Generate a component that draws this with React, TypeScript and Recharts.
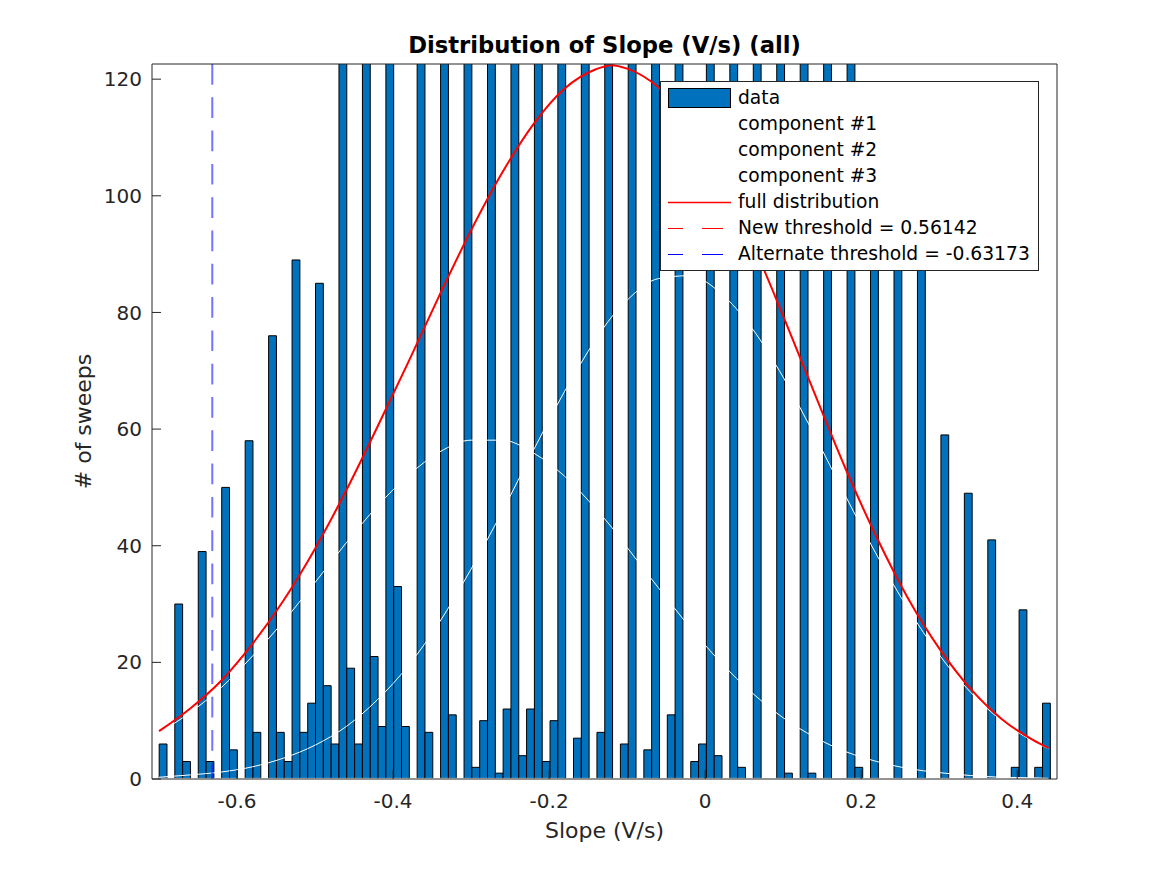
import { ComposedChart, Bar, Line, XAxis, YAxis, ReferenceLine, Legend, Label } from 'recharts'

// histogram bins (edges of the first bin and the bin width, in V/s)
const BIN_START = -0.6998
const BIN_WIDTH = 0.01002

// counts per bin, left to right (bins taller than the axis are estimates)
const COUNTS = [
  6, 0, 30, 3, 0, 39, 3, 0, 50, 5,
  0, 58, 8, 0, 76, 8, 3, 89, 8, 13,
  85, 16, 6, 140, 19, 6, 168, 21, 9, 196,
  33, 9, 0, 238, 8, 0, 262, 11, 0, 287,
  2, 10, 306, 1, 12, 323, 4, 12, 338, 3,
  10, 349, 0, 7, 357, 0, 8, 361, 0, 6,
  358, 0, 5, 350, 0, 11, 337, 0, 3, 6,
  318, 4, 0, 291, 2, 0, 263, 0, 0, 233,
  1, 0, 201, 1, 0, 169, 0, 0, 141, 2,
  0, 113, 0, 0, 104, 0, 0, 95, 0, 0,
  59, 0, 0, 49, 0, 0, 41, 0, 0, 2,
  29, 0, 2, 13,
]

// fitted curves
const CURVE_X = [
  -0.7, -0.66, -0.62, -0.58, -0.54, -0.5, -0.46, -0.42, -0.38, -0.34,
  -0.3, -0.26, -0.22, -0.18, -0.14, -0.12, -0.1, -0.06, -0.02, 0.02,
  0.06, 0.1, 0.14, 0.18, 0.22, 0.26, 0.3, 0.34, 0.38, 0.42, 0.44,
]
const COMPONENT_1 = [
  7.9, 11.4, 15.7, 21.1, 27.1, 33.7, 40.5, 46.8, 52.1, 56.1,
  58.1, 58.1, 55.9, 51.9, 46.3, 43.2, 39.7, 32.8, 26.1, 20.0,
  14.8, 10.5, 7.2, 4.7, 3.0, 1.8, 1.1, 0.6, 0.3, 0.2, 0.1,
]
const COMPONENT_2 = [
  0.3, 0.7, 1.2, 2.1, 3.6, 5.8, 9.0, 13.6, 19.5, 27.0,
  36.0, 45.9, 56.4, 66.5, 75.4, 79.2, 82.1, 85.8, 86.3, 83.3,
  77.3, 68.9, 59.0, 48.5, 38.4, 29.2, 21.3, 14.9, 10.0, 6.5, 5.2,
]
const COMPONENT_3 = [
  0.1, 0.1, 0.1, 0.1, 0.1, 0.1, 0.1, 0.1, 0.1, 0.1,
  0.1, 0.1, 0.1, 0.1, 0.1, 0.1, 0.1, 0.1, 0.1, 0.1,
  0.1, 0.1, 0.1, 0.1, 0.1, 0.1, 0.1, 0.1, 0.1, 0.1, 0.1,
]
const FULL_DIST = [
  8.2, 12.1, 16.9, 23.2, 30.7, 39.5, 49.5, 60.4, 71.6, 83.1,
  94.1, 104.0, 112.3, 118.4, 121.7, 122.4, 121.8, 118.6, 112.4, 103.3,
  92.1, 79.4, 66.2, 53.2, 41.4, 31.0, 22.4, 15.5, 10.3, 6.7, 5.3,
]

const NEW_THRESHOLD = 0.56142
const ALT_THRESHOLD = -0.63173

const X_TICKS = [-0.6, -0.4, -0.2, 0, 0.2, 0.4]
const Y_TICKS = [0, 20, 40, 60, 80, 100, 120]
const X_DOMAIN: [number, number] = [-0.709, 0.451]
const Y_DOMAIN: [number, number] = [0, 122.6]

const LEGEND_LABELS = [
  'data',
  'component #1',
  'component #2',
  'component #3',
  'full distribution',
  'New threshold = 0.56142',
  'Alternate threshold = -0.63173',
]

const FONT = '"DejaVu Sans", sans-serif'
const AXIS = '#262626'
const BAR_BLUE = '#0072BD'

const W = 1167
const H = 875
const MARGIN = { top: 26, right: 100, bottom: 16, left: 14 }
const PLOT_W = 905

function LegendSymbol({ index }: { index: number }) {
  if (index === 0) {
    return <rect x={0.5} y={3.5} width={62} height={19} fill={BAR_BLUE} stroke="#000" strokeWidth={1} />
  }
  if (index <= 3) {
    return <line x1={0} x2={63} y1={13.5} y2={13.5} stroke="#fff" strokeWidth={1} />
  }
  if (index === 4) {
    return <line x1={0} x2={63} y1={13.5} y2={13.5} stroke="#ff0000" strokeWidth={1.5} />
  }
  const color = index === 5 ? '#ff0000' : '#0000ff'
  return <line x1={0} x2={63} y1={13.5} y2={13.5} stroke={color} strokeWidth={1} strokeDasharray="15 19 21 8" />
}

function LegendBox() {
  return (
    <div
      style={{
        boxSizing: 'border-box',
        width: 379,
        height: 190,
        border: `1px solid ${AXIS}`,
        background: '#fff',
        paddingTop: 2.5,
        fontFamily: FONT,
        fontSize: 18.7,
        color: '#000',
      }}
    >
      {LEGEND_LABELS.map((label, i) => (
        <div key={label} style={{ position: 'relative', height: 26 }}>
          <svg width={63} height={26} style={{ position: 'absolute', left: 7, top: 0 }}>
            <LegendSymbol index={i} />
          </svg>
          <span style={{ position: 'absolute', left: 77, top: 0, lineHeight: '26px', whiteSpace: 'nowrap' }}>
            {label}
          </span>
        </div>
      ))}
    </div>
  )
}

export default function App() {
  const bins = COUNTS.map((count, i) => ({ x: BIN_START + BIN_WIDTH * (i + 0.5), count }))
  const curves = CURVE_X.map((x, i) => ({
    x,
    c1: COMPONENT_1[i],
    c2: COMPONENT_2[i],
    c3: COMPONENT_3[i],
    full: FULL_DIST[i],
  }))
  const barPx = (PLOT_W * BIN_WIDTH) / (X_DOMAIN[1] - X_DOMAIN[0]) - 0.01

  return (
    <div style={{ position: 'absolute', left: 0, top: 0, width: W, height: H, background: '#fff', fontFamily: FONT }}>
      <ComposedChart width={W} height={H} data={bins} margin={MARGIN}>
        <XAxis
          xAxisId="bins"
          dataKey="x"
          type="number"
          domain={X_DOMAIN}
          allowDataOverflow
          ticks={X_TICKS}
          interval={0}
          height={80}
          tickSize={-9}
          tickMargin={24}
          stroke={AXIS}
          tick={{ fontSize: 20, fill: AXIS, fontFamily: FONT }}
        >
          <Label value="Slope (V/s)" position="insideBottom" offset={21} fontSize={22} fill={AXIS} fontFamily={FONT} />
        </XAxis>
        <XAxis
          xAxisId="curve"
          orientation="top"
          dataKey="x"
          type="number"
          domain={X_DOMAIN}
          allowDataOverflow
          ticks={X_TICKS}
          interval={0}
          height={38}
          tickSize={-9}
          tick={false}
          stroke={AXIS}
        >
          <Label
            value="Distribution of Slope (V/s) (all)"
            position="center"
            fontSize={22.7}
            fontWeight="bold"
            fill="#000"
            fontFamily={FONT}
          />
        </XAxis>
        <YAxis
          yAxisId="left"
          type="number"
          domain={Y_DOMAIN}
          allowDataOverflow
          ticks={Y_TICKS}
          interval={0}
          width={138}
          tickSize={-9}
          tickMargin={19}
          stroke={AXIS}
          tick={{ fontSize: 20, fill: AXIS, fontFamily: FONT }}
        >
          <Label value="# of sweeps" angle={-90} position="center" fontSize={22} fill={AXIS} fontFamily={FONT} />
        </YAxis>
        <YAxis
          yAxisId="right"
          orientation="right"
          type="number"
          domain={Y_DOMAIN}
          allowDataOverflow
          ticks={Y_TICKS}
          interval={0}
          width={10}
          tickSize={-9}
          tick={false}
          stroke={AXIS}
        />

        <Bar
          xAxisId="bins"
          yAxisId="left"
          dataKey="count"
          fill={BAR_BLUE}
          stroke="#000"
          strokeWidth={1}
          barSize={barPx}
          isAnimationActive={false}
        />

        <Line xAxisId="curve" yAxisId="left" data={curves} dataKey="c1" type="monotone" stroke="#fff" strokeWidth={1} dot={false} isAnimationActive={false} />
        <Line xAxisId="curve" yAxisId="left" data={curves} dataKey="c2" type="monotone" stroke="#fff" strokeWidth={1} dot={false} isAnimationActive={false} />
        <Line xAxisId="curve" yAxisId="left" data={curves} dataKey="c3" type="monotone" stroke="#fff" strokeWidth={1} dot={false} isAnimationActive={false} />
        <Line xAxisId="curve" yAxisId="left" data={curves} dataKey="full" type="monotone" stroke="#ff0000" strokeWidth={2} dot={false} isAnimationActive={false} />

        <ReferenceLine xAxisId="curve" yAxisId="left" x={NEW_THRESHOLD} stroke="#ff0000" strokeWidth={2} strokeDasharray="20.7 12.6" />
        <ReferenceLine
          xAxisId="curve"
          yAxisId="left"
          x={ALT_THRESHOLD}
          stroke="#0000ff"
          strokeOpacity={0.55}
          strokeWidth={2}
          strokeDasharray="20.7 12.6"
        />

        <Legend
          layout="vertical"
          align="center"
          verticalAlign="middle"
          wrapperStyle={{ left: 660, top: 81, width: 379, height: 190 }}
          content={() => <LegendBox />}
        />
      </ComposedChart>
    </div>
  )
}
